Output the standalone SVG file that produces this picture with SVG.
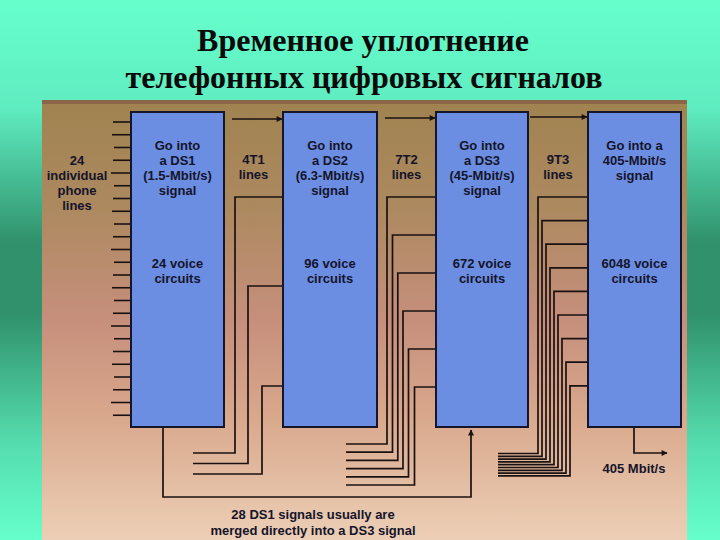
<svg xmlns="http://www.w3.org/2000/svg" width="720" height="540" viewBox="0 0 720 540">
  <defs>
    <linearGradient id="bg" x1="0" y1="0" x2="0" y2="1">
      <stop offset="0" stop-color="#66ffcc"/>
      <stop offset="0.2" stop-color="#5fecc0"/>
      <stop offset="0.45" stop-color="#30916c"/>
      <stop offset="0.58" stop-color="#30916c"/>
      <stop offset="0.82" stop-color="#55dcae"/>
      <stop offset="1" stop-color="#66ffcc"/>
    </linearGradient>
    <linearGradient id="panel" x1="0" y1="0" x2="0" y2="1">
      <stop offset="0" stop-color="#a08350"/>
      <stop offset="0.25" stop-color="#ad8960"/>
      <stop offset="0.5" stop-color="#c68f7c"/>
      <stop offset="0.72" stop-color="#d9a88c"/>
      <stop offset="1" stop-color="#eccfb6"/>
    </linearGradient>
    <marker id="arr" viewBox="0 0 10 10" refX="9" refY="5" markerWidth="7" markerHeight="6" markerUnits="userSpaceOnUse" orient="auto">
      <path d="M0,0 L10,5 L0,10 z" fill="#1a1212"/>
    </marker>
    <style>
      .title { font-family: "Liberation Serif", "Times New Roman", serif; font-weight: bold; font-size: 32px; fill: #0a0a0a; text-anchor: middle; }
      .box { fill: #6c8ee2; stroke: #16162a; stroke-width: 2; }
      .t { font-family: "Liberation Sans", Arial, sans-serif; font-weight: bold; font-size: 13px; fill: #14142a; text-anchor: middle; }
      .w { fill: none; stroke: #1a1212; stroke-width: 1.7; }
      .tick { stroke: #1a1212; stroke-width: 1.6; }
    </style>
  </defs>

  <rect x="0" y="0" width="720" height="540" fill="url(#bg)"/>
  <text class="title" x="363" y="51">Временное уплотнение</text>
  <text class="title" x="364" y="88">телефонных цифровых сигналов</text>

  <rect x="42" y="100" width="645" height="440" fill="url(#panel)"/>
  <rect x="42" y="100" width="645" height="4" fill="#8c6448"/>

  <g id="inputs">
    <text class="t" x="77" y="165">24</text>
    <text class="t" x="77" y="180">individual</text>
    <text class="t" x="77" y="195">phone</text>
    <text class="t" x="77" y="210">lines</text>
    <g class="tick">
      <line x1="113" y1="122" x2="131" y2="122"/>
      <line x1="112" y1="134.75" x2="131" y2="134.75"/>
      <line x1="114" y1="147.5" x2="131" y2="147.5"/>
      <line x1="113" y1="160.25" x2="131" y2="160.25"/>
      <line x1="111" y1="173" x2="131" y2="173"/>
      <line x1="114" y1="185.75" x2="131" y2="185.75"/>
      <line x1="113" y1="198.5" x2="131" y2="198.5"/>
      <line x1="112" y1="211.25" x2="131" y2="211.25"/>
      <line x1="114" y1="224" x2="131" y2="224"/>
      <line x1="113" y1="236.75" x2="131" y2="236.75"/>
      <line x1="111" y1="249.5" x2="131" y2="249.5"/>
      <line x1="114" y1="262.25" x2="131" y2="262.25"/>
      <line x1="113" y1="275" x2="131" y2="275"/>
      <line x1="112" y1="287.75" x2="131" y2="287.75"/>
      <line x1="114" y1="300.5" x2="131" y2="300.5"/>
      <line x1="113" y1="313.25" x2="131" y2="313.25"/>
      <line x1="111" y1="326" x2="131" y2="326"/>
      <line x1="114" y1="338.75" x2="131" y2="338.75"/>
      <line x1="113" y1="351.5" x2="131" y2="351.5"/>
      <line x1="112" y1="364.25" x2="131" y2="364.25"/>
      <line x1="114" y1="377" x2="131" y2="377"/>
      <line x1="113" y1="389.75" x2="131" y2="389.75"/>
      <line x1="111" y1="402.5" x2="131" y2="402.5"/>
      <line x1="113" y1="415.25" x2="131" y2="415.25"/>
    </g>
  </g>

  <g id="connectors">
    <!-- top arrows -->
    <line class="w" x1="232" y1="119" x2="282" y2="119" marker-end="url(#arr)"/>
    <line class="w" x1="385" y1="118" x2="435" y2="118" marker-end="url(#arr)"/>
    <line class="w" x1="530" y1="117" x2="587" y2="117" marker-end="url(#arr)"/>
    <!-- DS1 output merged into DS3 -->
    <path class="w" d="M163,428 V497 H471 V430" marker-end="url(#arr)"/>
    <!-- 4 T1 group -->
    <path class="w" d="M193,453 H235 V197 H283"/>
    <path class="w" d="M193,463.5 H248 V286 H283"/>
    <path class="w" d="M193,474 H262 V386 H283"/>
    <!-- 7 T2 group -->
    <path class="w" d="M346,444 H387 V197 H436"/>
    <path class="w" d="M346,452.2 H392.5 V235 H436"/>
    <path class="w" d="M346,460.4 H397.8 V273 H436"/>
    <path class="w" d="M346,468.6 H403 V311 H436"/>
    <path class="w" d="M346,476.8 H408.5 V349 H436"/>
    <path class="w" d="M346,485 H414.5 V387 H436"/>
    <!-- 9 T3 group -->
    <path class="w" d="M498,453.5 H538 V197 H588"/>
    <path class="w" d="M498,456.3 H542 V220.6 H588"/>
    <path class="w" d="M498,459.1 H546 V244.2 H588"/>
    <path class="w" d="M498,461.9 H550 V267.8 H588"/>
    <path class="w" d="M498,464.7 H554 V291.4 H588"/>
    <path class="w" d="M498,467.5 H558 V315 H588"/>
    <path class="w" d="M498,470.3 H562 V338.6 H588"/>
    <path class="w" d="M498,473.1 H566 V362.2 H588"/>
    <path class="w" d="M498,475.9 H570 V385.8 H588"/>
    <!-- output -->
    <path class="w" d="M634,428 V453 H667" marker-end="url(#arr)"/>
  </g>

  <g id="labels">
    <text class="t" x="253.5" y="164">4T1</text>
    <text class="t" x="253.5" y="179">lines</text>
    <text class="t" x="406.5" y="164">7T2</text>
    <text class="t" x="406.5" y="179">lines</text>
    <text class="t" x="558" y="164">9T3</text>
    <text class="t" x="558" y="179">lines</text>
    <text class="t" x="634" y="473">405 Mbit/s</text>
    <text class="t" x="313" y="519">28 DS1 signals usually are</text>
    <text class="t" x="313" y="535">merged directly into a DS3 signal</text>
  </g>

  <g id="ds1">
    <rect class="box" x="131" y="112" width="93" height="315"/>
    <text class="t" x="177.5" y="150">Go into</text>
    <text class="t" x="177.5" y="165">a DS1</text>
    <text class="t" x="177.5" y="180">(1.5-Mbit/s)</text>
    <text class="t" x="177.5" y="195">signal</text>
    <text class="t" x="177.5" y="268">24 voice</text>
    <text class="t" x="177.5" y="283">circuits</text>
  </g>

  <g id="ds2">
    <rect class="box" x="283" y="112" width="94" height="315"/>
    <text class="t" x="330" y="150">Go into</text>
    <text class="t" x="330" y="165">a DS2</text>
    <text class="t" x="330" y="180">(6.3-Mbit/s)</text>
    <text class="t" x="330" y="195">signal</text>
    <text class="t" x="330" y="268">96 voice</text>
    <text class="t" x="330" y="283">circuits</text>
  </g>

  <g id="ds3">
    <rect class="box" x="436" y="112" width="92" height="315"/>
    <text class="t" x="482" y="150">Go into</text>
    <text class="t" x="482" y="165">a DS3</text>
    <text class="t" x="482" y="180">(45-Mbit/s)</text>
    <text class="t" x="482" y="195">signal</text>
    <text class="t" x="482" y="268">672 voice</text>
    <text class="t" x="482" y="283">circuits</text>
  </g>

  <g id="sig405">
    <rect class="box" x="588" y="112" width="93" height="315"/>
    <text class="t" x="634.5" y="150">Go into a</text>
    <text class="t" x="634.5" y="165">405-Mbit/s</text>
    <text class="t" x="634.5" y="180">signal</text>
    <text class="t" x="634.5" y="268">6048 voice</text>
    <text class="t" x="634.5" y="283">circuits</text>
  </g>
</svg>
